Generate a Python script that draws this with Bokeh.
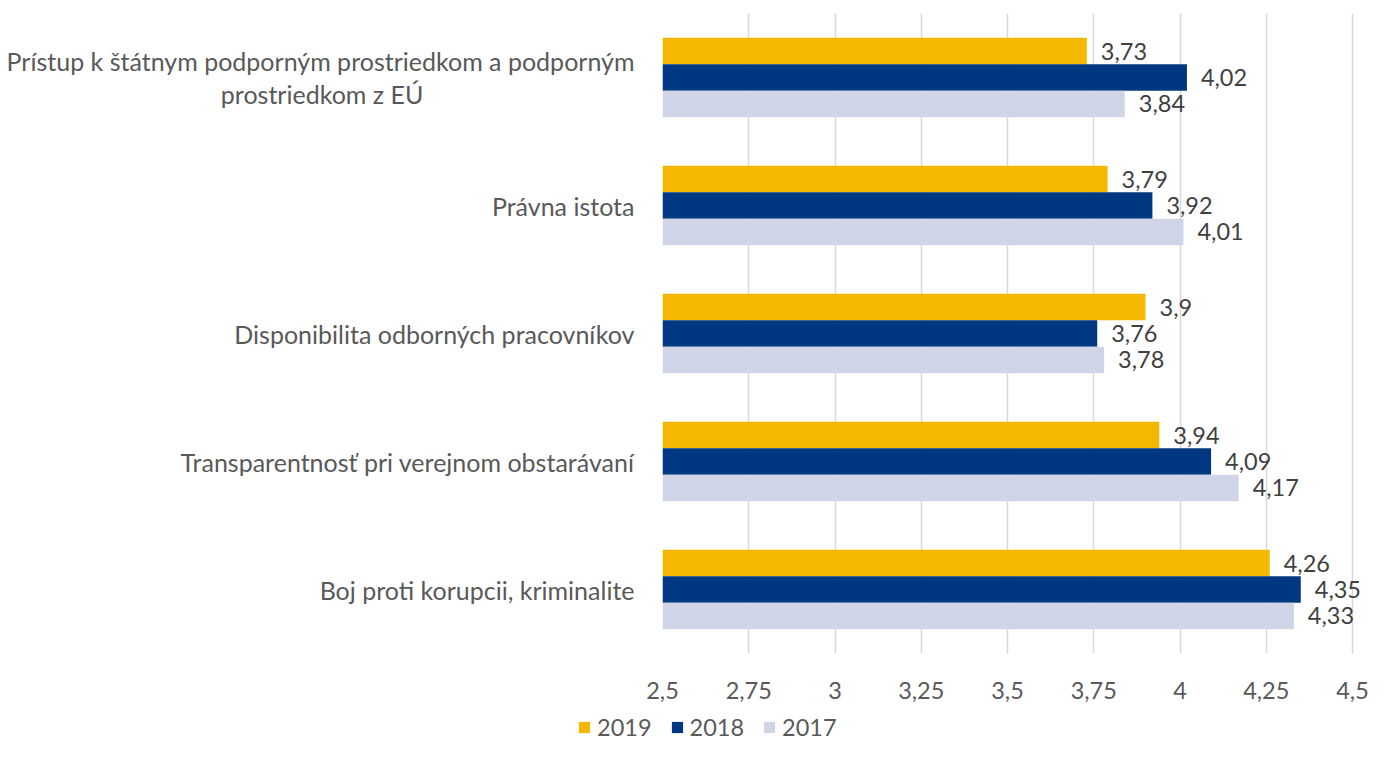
from bokeh.plotting import figure
from bokeh.models import (ColumnDataSource, FactorRange, Range1d, FixedTicker,
                          CustomJSTickFormatter, LabelSet, Legend, LegendItem)
from bokeh.core.properties import value
from bokeh.transform import dodge
from bokeh.embed import file_html
from bokeh.resources import INLINE

NB = "\u00a0"
categories = [
    "Prístup k štátnym podporným prostriedkom a podporným\nprostriedkom z EÚ" + NB * 33,
    "Právna istota",
    "Disponibilita odborných pracovníkov",
    "Transparentnosť pri verejnom obstarávaní",
    "Boj proti korupcii, kriminalite",
]
years = ["2019", "2018", "2017"]
v2019 = [3.73, 3.79, 3.90, 3.94, 4.26]
v2018 = [4.02, 3.92, 3.76, 4.09, 4.35]
v2017 = [3.84, 4.01, 3.78, 4.17, 4.33]
x_ticks = [2.5, 2.75, 3, 3.25, 3.5, 3.75, 4, 4.25, 4.5]
colors = ["#F5B800", "#003781", "#CFD5E6"]

FONT = "Lato"
TXT = "#595959"
NUM_SIZE = "23.5px"

p = figure(width=1371, height=704, output_backend="svg", toolbar_location=None,
           y_range=FactorRange(factors=list(reversed(categories))),
           x_range=Range1d(2.5, 4.555),
           min_border_left=662, min_border_right=0,
           min_border_top=13, min_border_bottom=51)
p.outline_line_color = None
p.background_fill_color = "white"

offsets = [0.207, 0.0, -0.207]
series = [v2019, v2018, v2017]
sources = []
for yr, vals, off, col in zip(years, series, offsets, colors):
    src = ColumnDataSource(dict(cat=categories, val=vals,
                                lbl=[str(v).replace(".", ",") for v in vals]))
    sources.append(src)
    p.hbar(y=dodge("cat", off, range=p.y_range), left=2.5, right="val",
           height=0.207, source=src, fill_color=col, line_color=None)
    labels = LabelSet(x="val", y=dodge("cat", off, range=p.y_range), text="lbl",
                      source=src, x_offset=14, text_baseline="middle",
                      text_align="left", text_font=value(FONT),
                      text_font_size=value(NUM_SIZE), text_color="#404040")
    p.add_layout(labels)

# x axis
p.xaxis.ticker = FixedTicker(ticks=x_ticks)
p.xaxis.formatter = CustomJSTickFormatter(code="return tick.toString().replace('.', ',');")
p.xaxis.axis_line_color = None
p.xaxis.major_tick_line_color = None
p.xaxis.minor_tick_line_color = None
p.xaxis.major_label_standoff = 22
p.xaxis.major_label_text_font = FONT
p.xaxis.major_label_text_font_size = NUM_SIZE
p.xaxis.major_label_text_color = TXT

# y axis
p.yaxis.axis_line_color = None
p.yaxis.major_tick_line_color = None
p.yaxis.minor_tick_line_color = None
p.yaxis.major_label_standoff = 22
p.yaxis.major_label_text_font = FONT
p.yaxis.major_label_text_font_size = "25px"
p.yaxis.major_label_text_color = TXT
p.yaxis.major_label_text_line_height = 1.1

p.xgrid.grid_line_color = "#D9D9D9"
p.xgrid.grid_line_width = 1.5
p.ygrid.grid_line_color = None

# legend strip (separate root, its bars fall outside its ranges)
lg = figure(width=1371, height=37, output_backend="svg", toolbar_location=None,
            x_range=Range1d(0, 1), y_range=Range1d(0, 1),
            x_axis_location=None, y_axis_location=None,
            min_border_left=0, min_border_right=0, min_border_top=0, min_border_bottom=0)
lg.outline_line_color = None
lg.xgrid.grid_line_color = None
lg.ygrid.grid_line_color = None
items = []
for yr, col, src in zip(years, colors, sources):
    r = lg.hbar(y="val", left=2.5, right="val", height=0.1, source=src,
                fill_color=col, line_color=None)
    items.append(LegendItem(label=yr, renderers=[r]))
legend = Legend(items=items, orientation="horizontal", location=(577, 0))
legend.label_text_font = FONT
legend.label_text_font_size = NUM_SIZE
legend.label_text_color = TXT
legend.glyph_width = 14
legend.glyph_height = 14
legend.label_standoff = 6
legend.spacing = 18
legend.padding = 0
legend.margin = 0
legend.border_line_color = None
legend.background_fill_alpha = 0
lg.add_layout(legend, "center")

open("out.html", "w").write(file_html([p, lg], INLINE))
